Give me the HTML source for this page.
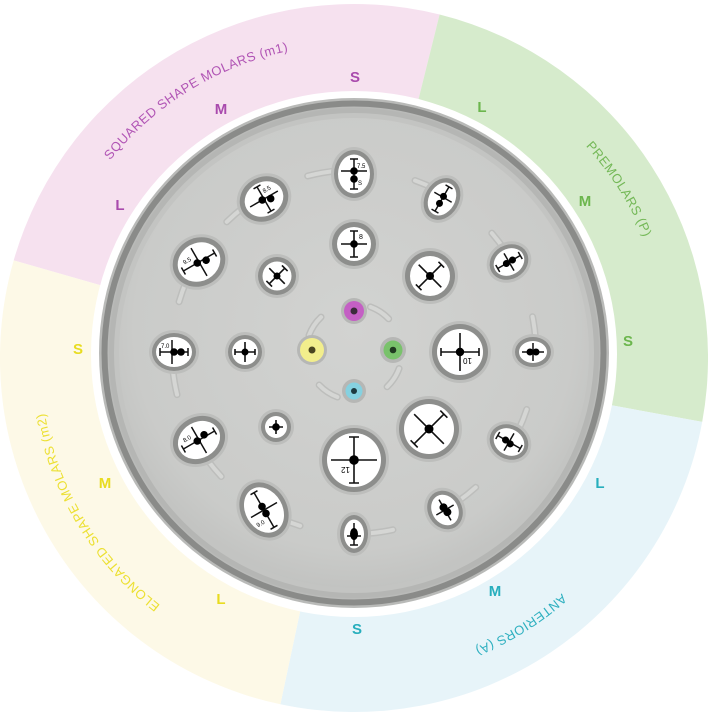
<!DOCTYPE html>
<html><head><meta charset="utf-8"><style>
html,body{margin:0;padding:0;background:#fff;}
svg{display:block;}
</style></head><body>
<svg width="708" height="716" viewBox="0 0 708 716" xmlns="http://www.w3.org/2000/svg" font-family="Liberation Sans, sans-serif">
<defs>
<radialGradient id="plate" cx="50%" cy="45%" r="55%">
<stop offset="0" stop-color="#d2d3d1"/><stop offset="0.85" stop-color="#cacbc9"/><stop offset="1" stop-color="#c2c3c1"/>
</radialGradient>
<path id="tp" d="M106.6,164.7 A314,314 0 0 1 294.1,49.8"/>
<path id="tg" d="M583.7,143.9 A314,314 0 0 1 645.1,240.4"/>
<path id="tb" d="M564.1,591.3 A314,314 0 0 1 471.6,649.1"/>
<path id="ty" d="M169.4,612.0 A314,314 0 0 1 43.0,401.7"/>
</defs>
<rect width="708" height="716" fill="#fff"/>
<path d="M354,358 L13.7,260.4 A354,354 0 0 1 439.6,14.5 Z" fill="#f6e1ef"/>
<path d="M354,358 L439.6,14.5 A354,354 0 0 1 702.2,421.9 Z" fill="#d6ebcc"/>
<path d="M354,358 L702.2,421.9 A354,354 0 0 1 280.4,704.3 Z" fill="#e7f4f9"/>
<path d="M354,358 L280.4,704.3 A354,354 0 0 1 13.7,260.4 Z" fill="#fdf9e7"/>
<circle cx="354" cy="354" r="263" fill="#fff"/>

<g font-size="13" letter-spacing="0.5">
<text fill="#b155b5"><textPath href="#tp" startOffset="50%" text-anchor="middle">SQUARED SHAPE MOLARS (m1)</textPath></text>
<text fill="#74b857"><textPath href="#tg" startOffset="50%" text-anchor="middle">PREMOLARS (P)</textPath></text>
<text fill="#2fb0c0"><textPath href="#tb" startOffset="50%" text-anchor="middle">ANTERIORS (A)</textPath></text>
<text fill="#ece032"><textPath href="#ty" startOffset="50%" text-anchor="middle">ELONGATED SHAPE MOLARS (m2)</textPath></text>
</g>
<g font-size="15" font-weight="bold" text-anchor="middle" dominant-baseline="middle">
<text x="355" y="78" fill="#a94aad">S</text>
<text x="221" y="110" fill="#a94aad">M</text>
<text x="120" y="206" fill="#a94aad">L</text>
<text x="482" y="108" fill="#6cb64d">L</text>
<text x="585" y="202" fill="#6cb64d">M</text>
<text x="628" y="342" fill="#6cb64d">S</text>
<text x="600" y="484" fill="#27aebd">L</text>
<text x="495" y="592" fill="#27aebd">M</text>
<text x="357" y="630" fill="#27aebd">S</text>
<text x="78" y="350" fill="#e8dc20">S</text>
<text x="105" y="484" fill="#e8dc20">M</text>
<text x="221" y="600" fill="#e8dc20">L</text>
</g>

<!-- dish -->
<circle cx="354" cy="353" r="255" fill="#b9bab8"/>
<circle cx="354" cy="353" r="249.5" fill="none" stroke="#8a8b89" stroke-width="6"/>
<circle cx="354" cy="353" r="245" fill="#b5b6b4"/>
<circle cx="354" cy="353" r="240" fill="#c3c4c2"/>
<circle cx="354" cy="353" r="235" fill="url(#plate)"/>

<!-- dashed rings -->
<g fill="none" stroke-linecap="round">
<circle cx="354" cy="352" r="182" stroke="#bdbebc" stroke-width="7" stroke-dasharray="22 72" transform="rotate(-100 354 352)"/>
<circle cx="354" cy="352" r="182" stroke="#d5d6d4" stroke-width="4" stroke-dasharray="22 72" transform="rotate(-100 354 352)"/>
<circle cx="354" cy="352" r="48" stroke="#bdbebc" stroke-width="7" stroke-dasharray="22 53.4" transform="rotate(-70 354 352)"/>
<circle cx="354" cy="352" r="48" stroke="#d5d6d4" stroke-width="4" stroke-dasharray="22 53.4" transform="rotate(-70 354 352)"/>
</g>

<!-- circular wells -->
<g>
<g transform="translate(354,244)"><circle r="25" fill="#bdbebc"/><circle r="22" fill="#8d8e8c"/><circle r="17" fill="#fff"/><path d="M-13,0H13M0,-13V13M-4,-13H4M-4,13H4" stroke="#111" stroke-width="1.6"/><circle r="3.8" fill="#000"/><text x="5" y="-5" font-size="7">8</text></g>
<g transform="translate(277,276) rotate(45)"><circle r="22" fill="#bdbebc"/><circle r="19" fill="#8d8e8c"/><circle r="14.5" fill="#fff"/><path d="M-11,0H11M0,-11V11M-4,-11H4M-4,11H4" stroke="#111" stroke-width="1.6"/><circle r="3.5" fill="#000"/></g>
<g transform="translate(430,276) rotate(45)"><circle r="28" fill="#bdbebc"/><circle r="25" fill="#8d8e8c"/><circle r="20" fill="#fff"/><path d="M-16,0H16M0,-16V16M-4,-16H4M-4,16H4" stroke="#111" stroke-width="1.6"/><circle r="4" fill="#000"/></g>
<g transform="translate(245,352)"><circle r="20" fill="#bdbebc"/><circle r="17" fill="#8d8e8c"/><circle r="13" fill="#fff"/><path d="M-10,0H10M0,-10V10M-10,-3V3M10,-3V3" stroke="#111" stroke-width="1.6"/><circle r="3.5" fill="#000"/></g>
<g transform="translate(460,352)"><circle r="31" fill="#bdbebc"/><circle r="28" fill="#8d8e8c"/><circle r="23" fill="#fff"/><path d="M-19,0H19M0,-19V19M-19,-4V4M19,-4V4" stroke="#111" stroke-width="1.6"/><circle r="4.2" fill="#000"/><text x="6" y="12" font-size="8" transform="rotate(180 9 9)">10</text></g>
<g transform="translate(276,427)"><circle r="18" fill="#bdbebc"/><circle r="15" fill="#8d8e8c"/><circle r="11" fill="#fff"/><path d="M-7,0H7M0,-7V7" stroke="#111" stroke-width="1.6"/><circle r="3.8" fill="#000"/></g>
<g transform="translate(429,429) rotate(45)"><circle r="33" fill="#bdbebc"/><circle r="30" fill="#8d8e8c"/><circle r="25" fill="#fff"/><path d="M-21,0H21M0,-21V21M-5,-21H5M-5,21H5" stroke="#111" stroke-width="1.6"/><circle r="4.5" fill="#000"/></g>
<g transform="translate(354,460)"><circle r="35" fill="#bdbebc"/><circle r="32" fill="#8d8e8c"/><circle r="27" fill="#fff"/><path d="M-23,0H23M0,-23V23M-5,-23H5M-5,23H5" stroke="#111" stroke-width="1.6"/><circle r="4.8" fill="#000"/><text x="-14" y="13" font-size="8" transform="rotate(180 -9 10)">12</text></g>
</g>

<!-- colored center pegs -->
<g>
<circle cx="354" cy="311" r="13" fill="#b6b7b5"/><circle cx="354" cy="311" r="10" fill="#c45fc4"/><circle cx="354" cy="311" r="3.5" fill="#3b2a3b"/>
<circle cx="312" cy="350" r="15" fill="#b6b7b5"/><circle cx="312" cy="350" r="12" fill="#f2ee8c"/><circle cx="312" cy="350" r="3.5" fill="#4a4520"/>
<circle cx="393" cy="350" r="13" fill="#b6b7b5"/><circle cx="393" cy="350" r="9.5" fill="#79c26b"/><circle cx="393" cy="350" r="3.3" fill="#203a20"/>
<circle cx="354" cy="391" r="12" fill="#b6b7b5"/><circle cx="354" cy="391" r="8.5" fill="#85d1e0"/><circle cx="354" cy="391" r="3" fill="#1d3a40"/>
</g>

<!-- oval wells -->
<g>
<g transform="translate(354,174)"><ellipse rx="23" ry="27" fill="#bdbebc"/><ellipse rx="20" ry="24" fill="#8d8e8c"/><ellipse rx="16" ry="19.5" fill="#fff"/><path d="M-13,-3H13M0,-15V15M-4,-15H4M-4,15H4" stroke="#111" stroke-width="1.5"/><circle cy="-3" r="3.8"/><circle cy="5" r="3.8"/><text x="3" y="-6" font-size="6">7.5</text><text x="4" y="11" font-size="6">S</text></g>
<g transform="translate(264,199) rotate(-30)"><ellipse rx="28" ry="25" fill="#bdbebc"/><ellipse rx="25" ry="22" fill="#8d8e8c"/><ellipse rx="20" ry="17" fill="#fff"/><path d="M-16,0H16M0,-14V14M-4,-14H4M-4,14H4" stroke="#111" stroke-width="1.5"/><circle cx="-2" r="3.8"/><circle cx="6" cy="3" r="3.8"/><text x="3" y="-5" font-size="6">8.5</text></g>
<g transform="translate(442,199) rotate(30)"><ellipse rx="20" ry="25" fill="#bdbebc"/><ellipse rx="17" ry="22" fill="#8d8e8c"/><ellipse rx="13" ry="17.5" fill="#fff"/><path d="M-10,-2H10M0,-14V14M-4,-14H4M-4,14H4" stroke="#111" stroke-width="1.5"/><circle cy="-3" r="3.5"/><circle cy="5" r="3.5"/></g>
<g transform="translate(199,262) rotate(-30)"><ellipse rx="30" ry="27" fill="#bdbebc"/><ellipse rx="27" ry="24" fill="#8d8e8c"/><ellipse rx="22" ry="19" fill="#fff"/><path d="M-18,0H18M0,-16V16M-18,-4V4M18,-4V4" stroke="#111" stroke-width="1.5"/><circle cx="-2" r="3.8"/><circle cx="7" cy="2" r="3.8"/><text x="-14" y="-5" font-size="6">9.5</text></g>
<g transform="translate(509,262) rotate(-30)"><ellipse rx="23" ry="20" fill="#bdbebc"/><ellipse rx="20" ry="17" fill="#8d8e8c"/><ellipse rx="16" ry="13" fill="#fff"/><path d="M-13,0H13M0,-10V10M-13,-4V4M13,-4V4" stroke="#111" stroke-width="1.5"/><circle cx="-3" r="3.5"/><circle cx="4" r="3.5"/></g>
<g transform="translate(174,352)"><ellipse rx="25" ry="22" fill="#bdbebc"/><ellipse rx="22" ry="19" fill="#8d8e8c"/><ellipse rx="18" ry="15" fill="#fff"/><path d="M-14,0H14M-2,-12V12M-14,-4V4M14,-4V4" stroke="#111" stroke-width="1.5"/><circle cx="0" r="3.8"/><circle cx="7" r="3.8"/><text x="-13" y="-4" font-size="6">7.0</text></g>
<g transform="translate(533,352)"><ellipse rx="21" ry="18" fill="#bdbebc"/><ellipse rx="18" ry="15" fill="#8d8e8c"/><ellipse rx="14" ry="11" fill="#fff"/><path d="M-11,0H11M0,-9V9" stroke="#111" stroke-width="1.5"/><circle cx="-3" r="3.5"/><circle cx="3" r="3.5"/></g>
<g transform="translate(199,440) rotate(-30)"><ellipse rx="30" ry="26" fill="#bdbebc"/><ellipse rx="27" ry="23" fill="#8d8e8c"/><ellipse rx="22" ry="18" fill="#fff"/><path d="M-18,0H18M0,-15V15M-18,-4V4M18,-4V4" stroke="#111" stroke-width="1.5"/><circle cx="-2" r="3.8"/><circle cx="7" cy="-2" r="3.8"/><text x="-14" y="-5" font-size="6">8.0</text></g>
<g transform="translate(509,442) rotate(30)"><ellipse rx="23" ry="20" fill="#bdbebc"/><ellipse rx="20" ry="17" fill="#8d8e8c"/><ellipse rx="16" ry="13" fill="#fff"/><path d="M-13,0H13M0,-10V10M-13,-4V4M13,-4V4" stroke="#111" stroke-width="1.5"/><circle cx="-4" r="3.5"/><circle cx="2" cy="1" r="3.5"/></g>
<g transform="translate(264,510) rotate(-30)"><ellipse rx="26" ry="32" fill="#bdbebc"/><ellipse rx="23" ry="29" fill="#8d8e8c"/><ellipse rx="18.5" ry="24" fill="#fff"/><path d="M-15,0H15M0,-20V20M-4,-20H4M-4,20H4" stroke="#111" stroke-width="1.5"/><circle cy="-4" r="3.8"/><circle cy="4" r="3.8"/><text x="-14" y="12" font-size="6">9.0</text></g>
<g transform="translate(445,510) rotate(-30)"><ellipse rx="20" ry="23" fill="#bdbebc"/><ellipse rx="17" ry="20" fill="#8d8e8c"/><ellipse rx="13" ry="16" fill="#fff"/><path d="M-10,0H10M0,-12V12" stroke="#111" stroke-width="1.5"/><circle cy="-3" r="4"/><circle cx="1" cy="3" r="4"/></g>
<g transform="translate(354,534)"><ellipse rx="17" ry="22" fill="#bdbebc"/><ellipse rx="14" ry="19" fill="#8d8e8c"/><ellipse rx="10" ry="14.5" fill="#fff"/><path d="M-7,2H7M0,-11V11M-4,11H4" stroke="#111" stroke-width="1.5"/><ellipse cy="0" rx="4" ry="6"/></g>
</g>
</svg>
</body></html>
